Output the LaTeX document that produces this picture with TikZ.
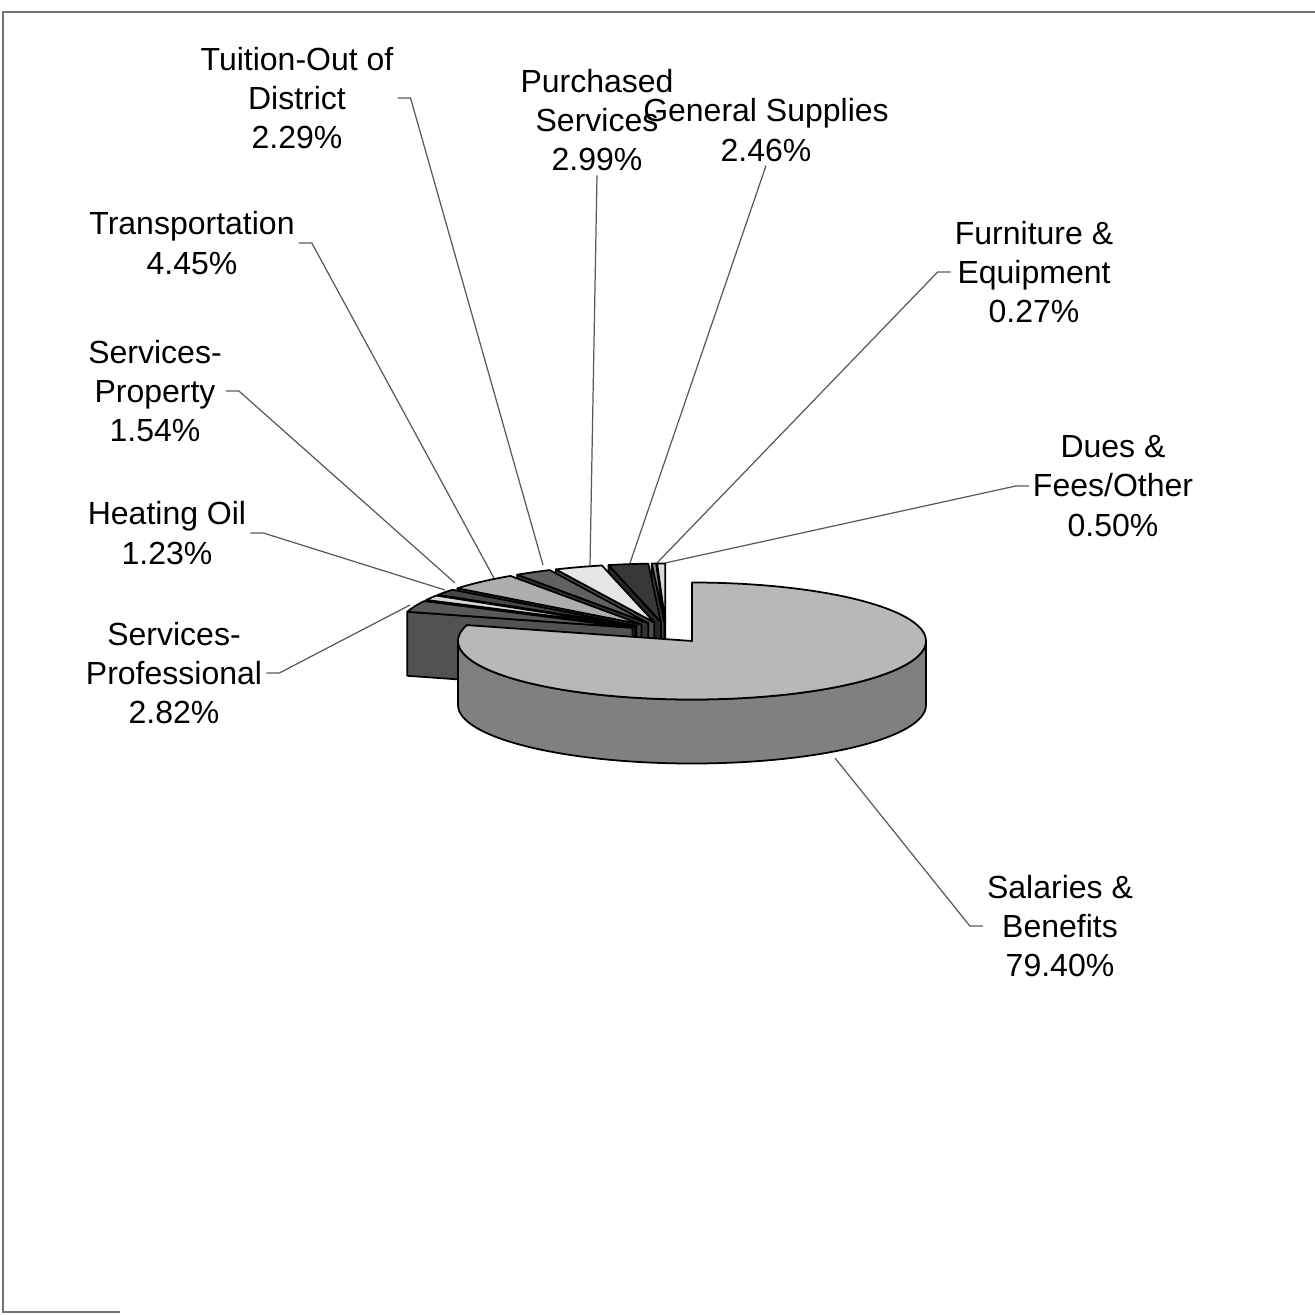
\documentclass[tikz,border=0pt]{standalone}
\usepackage{fontspec}
\setmainfont{Liberation Sans}
\begin{document}
\begin{tikzpicture}[x=0.01cm,y=0.01cm]
\tikzstyle{lbl}=[align=center,font=\fontsize{9.1}{11.2}\selectfont,inner sep=1pt];
\tikzstyle{leader}=[draw=black!65,line width=0.35pt];
\tikzstyle{edge}=[draw=black,line width=0.5pt,line join=round];
\tikzstyle{frame}=[draw=black!55,line width=0.7pt];
\tikzstyle{rim}=[x radius=234,y radius=58.5];
\useasboundingbox (0,0) rectangle (1315,-1315);
\draw[frame] (1315,-12) -- (3,-12) -- (3,-1312) -- (120,-1312);

% labels
\node[lbl] (l-tuition) at (297,-98) {Tuition-Out of\\District\\2.29\%};
\node[lbl] (l-purch) at (597,-120) {Purchased\\Services\\2.99\%};
\node[lbl] (l-gensup) at (766,-130) {General Supplies\\2.46\%};
\node[lbl] (l-furn) at (1034,-272) {Furniture \&\\Equipment\\0.27\%};
\node[lbl] (l-dues) at (1113,-486) {Dues \&\\Fees/Other\\0.50\%};
\node[lbl] (l-trans) at (192,-243) {Transportation\\4.45\%};
\node[lbl] (l-prop) at (155,-391) {Services-\\Property\\1.54\%};
\node[lbl] (l-heat) at (167,-533) {Heating Oil\\1.23\%};
\node[lbl] (l-prof) at (174,-673) {Services-\\Professional\\2.82\%};
\node[lbl] (l-sal) at (1060,-926) {Salaries \&\\Benefits\\79.40\%};

% where the leaders meet the slices
\coordinate (p-tuition) at (543,-565);
\coordinate (p-purch) at (590,-565);
\coordinate (p-gensup) at (630,-563);
\coordinate (p-furn) at (655,-565);
\coordinate (p-dues) at (665,-563);
\coordinate (p-trans) at (495,-580);
\coordinate (p-prop) at (455,-583);
\coordinate (p-heat) at (445,-590);
\coordinate (p-prof) at (410,-605);
\coordinate (p-sal) at (835,-758);

\draw[leader] (l-tuition.east) -- ++(13,0) -- (p-tuition);
\draw[leader] (l-purch.south) -- (p-purch);
\draw[leader] (l-gensup.south) -- (p-gensup);
\draw[leader] (l-furn.west) -- ++(-13,0) -- (p-furn);
\draw[leader] (l-dues.west) -- ++(-13,0) -- (p-dues);
\draw[leader] (l-trans.east) -- ++(13,0) -- (p-trans);
\draw[leader] (l-prop.east) -- ++(13,0) -- (p-prop);
\draw[leader] (l-heat.east) -- ++(13,0) -- (p-heat);
\draw[leader] (l-prof.east) -- ++(13,0) -- (p-prof);
\draw[leader] (l-sal.west) -- ++(-13,0) -- (p-sal);

% pie centres
\coordinate (c0) at (666,-631);
\coordinate (c1) at (692,-641);

% small slices, pulled out, back to front
\coordinate (s-dues) at ([shift={(91.02:36 and 9)}]c0);
\filldraw[edge,fill=black!45] (s-dues) -- ++(92.02:234 and 58.5) -- ++(0,-64) -- ([yshift=-0.64cm]s-dues) -- cycle;
\filldraw[edge,fill=black!15] (s-dues) -- ++(90:234 and 58.5) arc[rim,start angle=90,end angle=92.02] -- cycle;

\coordinate (s-furn) at ([shift={(92.56:36 and 9)}]c0);
\filldraw[edge,fill=black!75] (s-furn) -- ++(93.1:234 and 58.5) -- ++(0,-64) -- ([yshift=-0.64cm]s-furn) -- cycle;
\filldraw[edge,fill=black!50] (s-furn) -- ++(92.02:234 and 58.5) arc[rim,start angle=92.02,end angle=93.1] -- cycle;

\coordinate (s-gensup) at ([shift={(98.02:36 and 9)}]c0);
\filldraw[edge,fill=black!85] (s-gensup) -- ++(102.94:234 and 58.5) -- ++(0,-64) -- ([yshift=-0.64cm]s-gensup) -- cycle;
\filldraw[edge,fill=black!78] (s-gensup) -- ++(93.1:234 and 58.5) arc[rim,start angle=93.1,end angle=102.94] -- cycle;

\coordinate (s-purch) at ([shift={(108.92:36 and 9)}]c0);
\filldraw[edge,fill=black!70] (s-purch) -- ++(114.89:234 and 58.5) -- ++(0,-64) -- ([yshift=-0.64cm]s-purch) -- cycle;
\filldraw[edge,fill=black!10] (s-purch) -- ++(102.94:234 and 58.5) arc[rim,start angle=102.94,end angle=114.89] -- cycle;

\coordinate (s-tuition) at ([shift={(119.47:36 and 9)}]c0);
\filldraw[edge,fill=black!80] (s-tuition) -- ++(124.05:234 and 58.5) -- ++(0,-64) -- ([yshift=-0.64cm]s-tuition) -- cycle;
\filldraw[edge,fill=black!62] (s-tuition) -- ++(114.89:234 and 58.5) arc[rim,start angle=114.89,end angle=124.05] -- cycle;

\coordinate (s-trans) at ([shift={(132.95:36 and 9)}]c0);
\filldraw[edge,fill=black!75] (s-trans) -- ++(141.85:234 and 58.5) -- ++(0,-64) -- ([yshift=-0.64cm]s-trans) -- cycle;
\filldraw[edge,fill=black!32] (s-trans) -- ++(124.05:234 and 58.5) arc[rim,start angle=124.05,end angle=141.85] -- cycle;

\coordinate (s-prop) at ([shift={(144.93:36 and 9)}]c0);
\filldraw[edge,fill=black!85] (s-prop) -- ++(148.01:234 and 58.5) -- ++(0,-64) -- ([yshift=-0.64cm]s-prop) -- cycle;
\filldraw[edge,fill=black!72] (s-prop) -- ++(141.85:234 and 58.5) arc[rim,start angle=141.85,end angle=148.01] -- cycle;

\coordinate (s-heat) at ([shift={(150.47:36 and 9)}]c0);
\filldraw[edge,fill=black!70] (s-heat) -- ++(152.93:234 and 58.5) -- ++(0,-64) -- ([yshift=-0.64cm]s-heat) -- cycle;
\filldraw[edge,fill=black!15] (s-heat) -- ++(148.01:234 and 58.5) arc[rim,start angle=148.01,end angle=152.93] -- cycle;

\coordinate (s-prof) at ([shift={(158.57:36 and 9)}]c0);
\filldraw[edge,fill=black!68] (s-prof) -- ++(164.2:234 and 58.5) -- ++(0,-64) -- ([yshift=-0.64cm]s-prof) -- cycle;
\filldraw[edge,fill=black!65] (s-prof) -- ++(152.93:234 and 58.5) arc[rim,start angle=152.93,end angle=164.2] -- cycle;

% salaries & benefits
\filldraw[edge,fill=black!50] ([shift={(180:234 and 58.5)}]c1) arc[rim,start angle=180,end angle=360] -- ++(0,-64) arc[rim,start angle=360,end angle=180] -- cycle;
\filldraw[edge,fill=black!28] (c1) -- ++(90:234 and 58.5) arc[rim,start angle=90,end angle=-195.8] -- cycle;
\end{tikzpicture}
\end{document}
